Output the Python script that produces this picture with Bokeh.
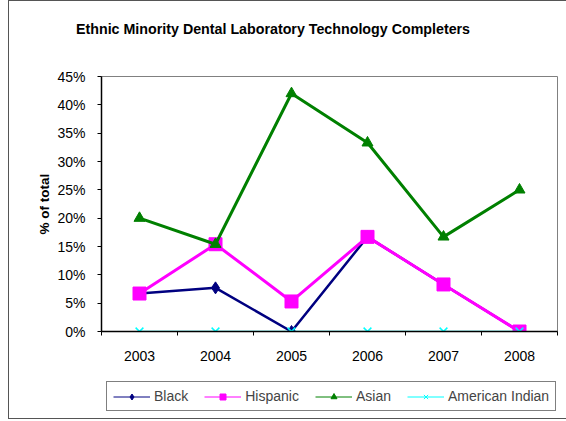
from bokeh.plotting import figure
from bokeh.layouts import column
from bokeh.models import (Range1d, FixedTicker, NumeralTickFormatter, Legend, LegendItem, Div)
from bokeh.embed import file_html
from bokeh.resources import INLINE

years = ["2003", "2004", "2005", "2006", "2007", "2008"]
black = [0.067, 0.077, 0.0, 0.167, 0.083, 0.0]
hispanic = [0.067, 0.154, 0.053, 0.167, 0.083, 0.0]
asian = [0.20, 0.154, 0.42, 0.333, 0.167, 0.25]
american_indian = [0.0, 0.0, 0.0, 0.0, 0.0, 0.0]
y_ticks = [0.0, 0.05, 0.10, 0.15, 0.20, 0.25, 0.30, 0.35, 0.40, 0.45]
series_names = ["Black", "Hispanic", "Asian", "American Indian"]
title_text = "Ethnic Minority Dental Laboratory Technology Completers"

xs = [i + 0.5 for i in range(len(years))]
FONT = "Liberation Sans"
FS = "14px"

# title as its own block above the chart
tf = Div(text=title_text, width=560, height=65,
         styles={"font-family": "'Liberation Sans', Arial, sans-serif", "font-weight": "bold",
                 "font-size": "14.25px", "color": "black", "padding-left": "67px",
                 "padding-top": "20px", "box-sizing": "border-box", "white-space": "nowrap",
                 "line-height": "17px", "margin": "0"})

p = figure(width=560, height=310, output_backend="svg", toolbar_location=None,
           x_range=Range1d(0, len(years)), y_range=Range1d(0, 0.45),
           min_border_left=92, min_border_right=12, min_border_top=10, min_border_bottom=45)
p.background_fill_color = "white"
p.border_fill_color = "white"
p.outline_line_color = "#808080"
p.outline_line_width = 1
p.grid.visible = False

xa = p.xaxis[0]
xa.ticker = FixedTicker(ticks=xs, minor_ticks=list(range(len(years) + 1)))
xa.major_label_overrides = {x: y for x, y in zip(xs, years)}
xa.major_tick_out = 0
xa.major_tick_in = 0
xa.minor_tick_out = 4
xa.minor_tick_in = 0
xa.minor_tick_line_color = "black"
xa.axis_line_color = "black"
xa.axis_line_width = 1.5
xa.major_label_standoff = 15
xa.major_label_text_font = FONT
xa.major_label_text_font_size = FS
xa.major_label_text_color = "black"

ya = p.yaxis[0]
ya.ticker = FixedTicker(ticks=y_ticks)
ya.formatter = NumeralTickFormatter(format="0%")
ya.major_tick_out = 4
ya.major_tick_in = 0
ya.minor_tick_out = 0
ya.minor_tick_in = 0
ya.axis_line_color = "black"
ya.axis_line_width = 1.5
ya.major_label_standoff = 12
ya.major_label_text_font = FONT
ya.major_label_text_font_size = FS
ya.major_label_text_color = "black"
ya.axis_label = "% of total"
ya.axis_label_text_font = FONT
ya.axis_label_text_font_style = "bold"
ya.axis_label_text_font_size = "13.5px"
ya.axis_label_standoff = 2
ya.axis_label_text_color = "black"

p.line(xs, black, line_color="navy", line_width=2.5)
p.scatter(xs, black, marker="diamond", size=12, fill_color="navy", line_color="navy")
p.line(xs, hispanic, line_color="#FF00FF", line_width=3)
p.scatter(xs, hispanic, marker="square", size=13, fill_color="#FF00FF", line_color="#FF00FF")
p.line(xs, asian, line_color="green", line_width=3)
p.scatter(xs, asian, marker="triangle", size=11, fill_color="green", line_color="green")
p.line(xs, american_indian, line_color="cyan", line_width=1.5)
p.scatter(xs, american_indian, marker="x", size=11, line_color="cyan", line_width=1.5)

# legend strip: same series drawn outside its visible range, only the legend shows
lf = figure(width=560, height=42, output_backend="svg", toolbar_location=None,
            x_range=Range1d(100, 101), y_range=Range1d(100, 101),
            x_axis_location=None, y_axis_location=None,
            min_border_left=0, min_border_right=0, min_border_top=0, min_border_bottom=0)
lf.outline_line_color = None
lf.grid.visible = False
lf.background_fill_color = "white"
lf.border_fill_color = "white"

lb_l = lf.line(xs, black, line_color="navy", line_width=1)
lb_m = lf.scatter(xs, black, marker="diamond", size=9, fill_color="navy", line_color="navy")
lh_l = lf.line(xs, hispanic, line_color="#FF00FF", line_width=1)
lh_m = lf.scatter(xs, hispanic, marker="square", size=8, fill_color="#FF00FF", line_color="#FF00FF")
la_l = lf.line(xs, asian, line_color="green", line_width=1)
la_m = lf.scatter(xs, asian, marker="triangle", size=8, fill_color="green", line_color="green")
li_l = lf.line(xs, american_indian, line_color="cyan", line_width=1)
li_m = lf.scatter(xs, american_indian, marker="x", size=8, line_color="cyan")

legend = Legend(items=[LegendItem(label=series_names[0], renderers=[lb_l, lb_m]),
                       LegendItem(label=series_names[1], renderers=[lh_l, lh_m]),
                       LegendItem(label=series_names[2], renderers=[la_l, la_m]),
                       LegendItem(label=series_names[3], renderers=[li_l, li_m])],
                orientation="horizontal", location=(5, 7),
                border_line_color="black", border_line_width=1,
                label_text_font=FONT, label_text_font_size=FS,
                glyph_width=37, glyph_height=15, label_standoff=4, spacing=16,
                padding=6, margin=0, background_fill_alpha=1)
lf.add_layout(legend, "center")

layout = column(tf, p, lf, spacing=0)
layout.styles = {"border": "1.5px solid #555555", "box-sizing": "border-box", "margin-left": "8px"}

open("out.html", "w").write(file_html(layout, INLINE))
